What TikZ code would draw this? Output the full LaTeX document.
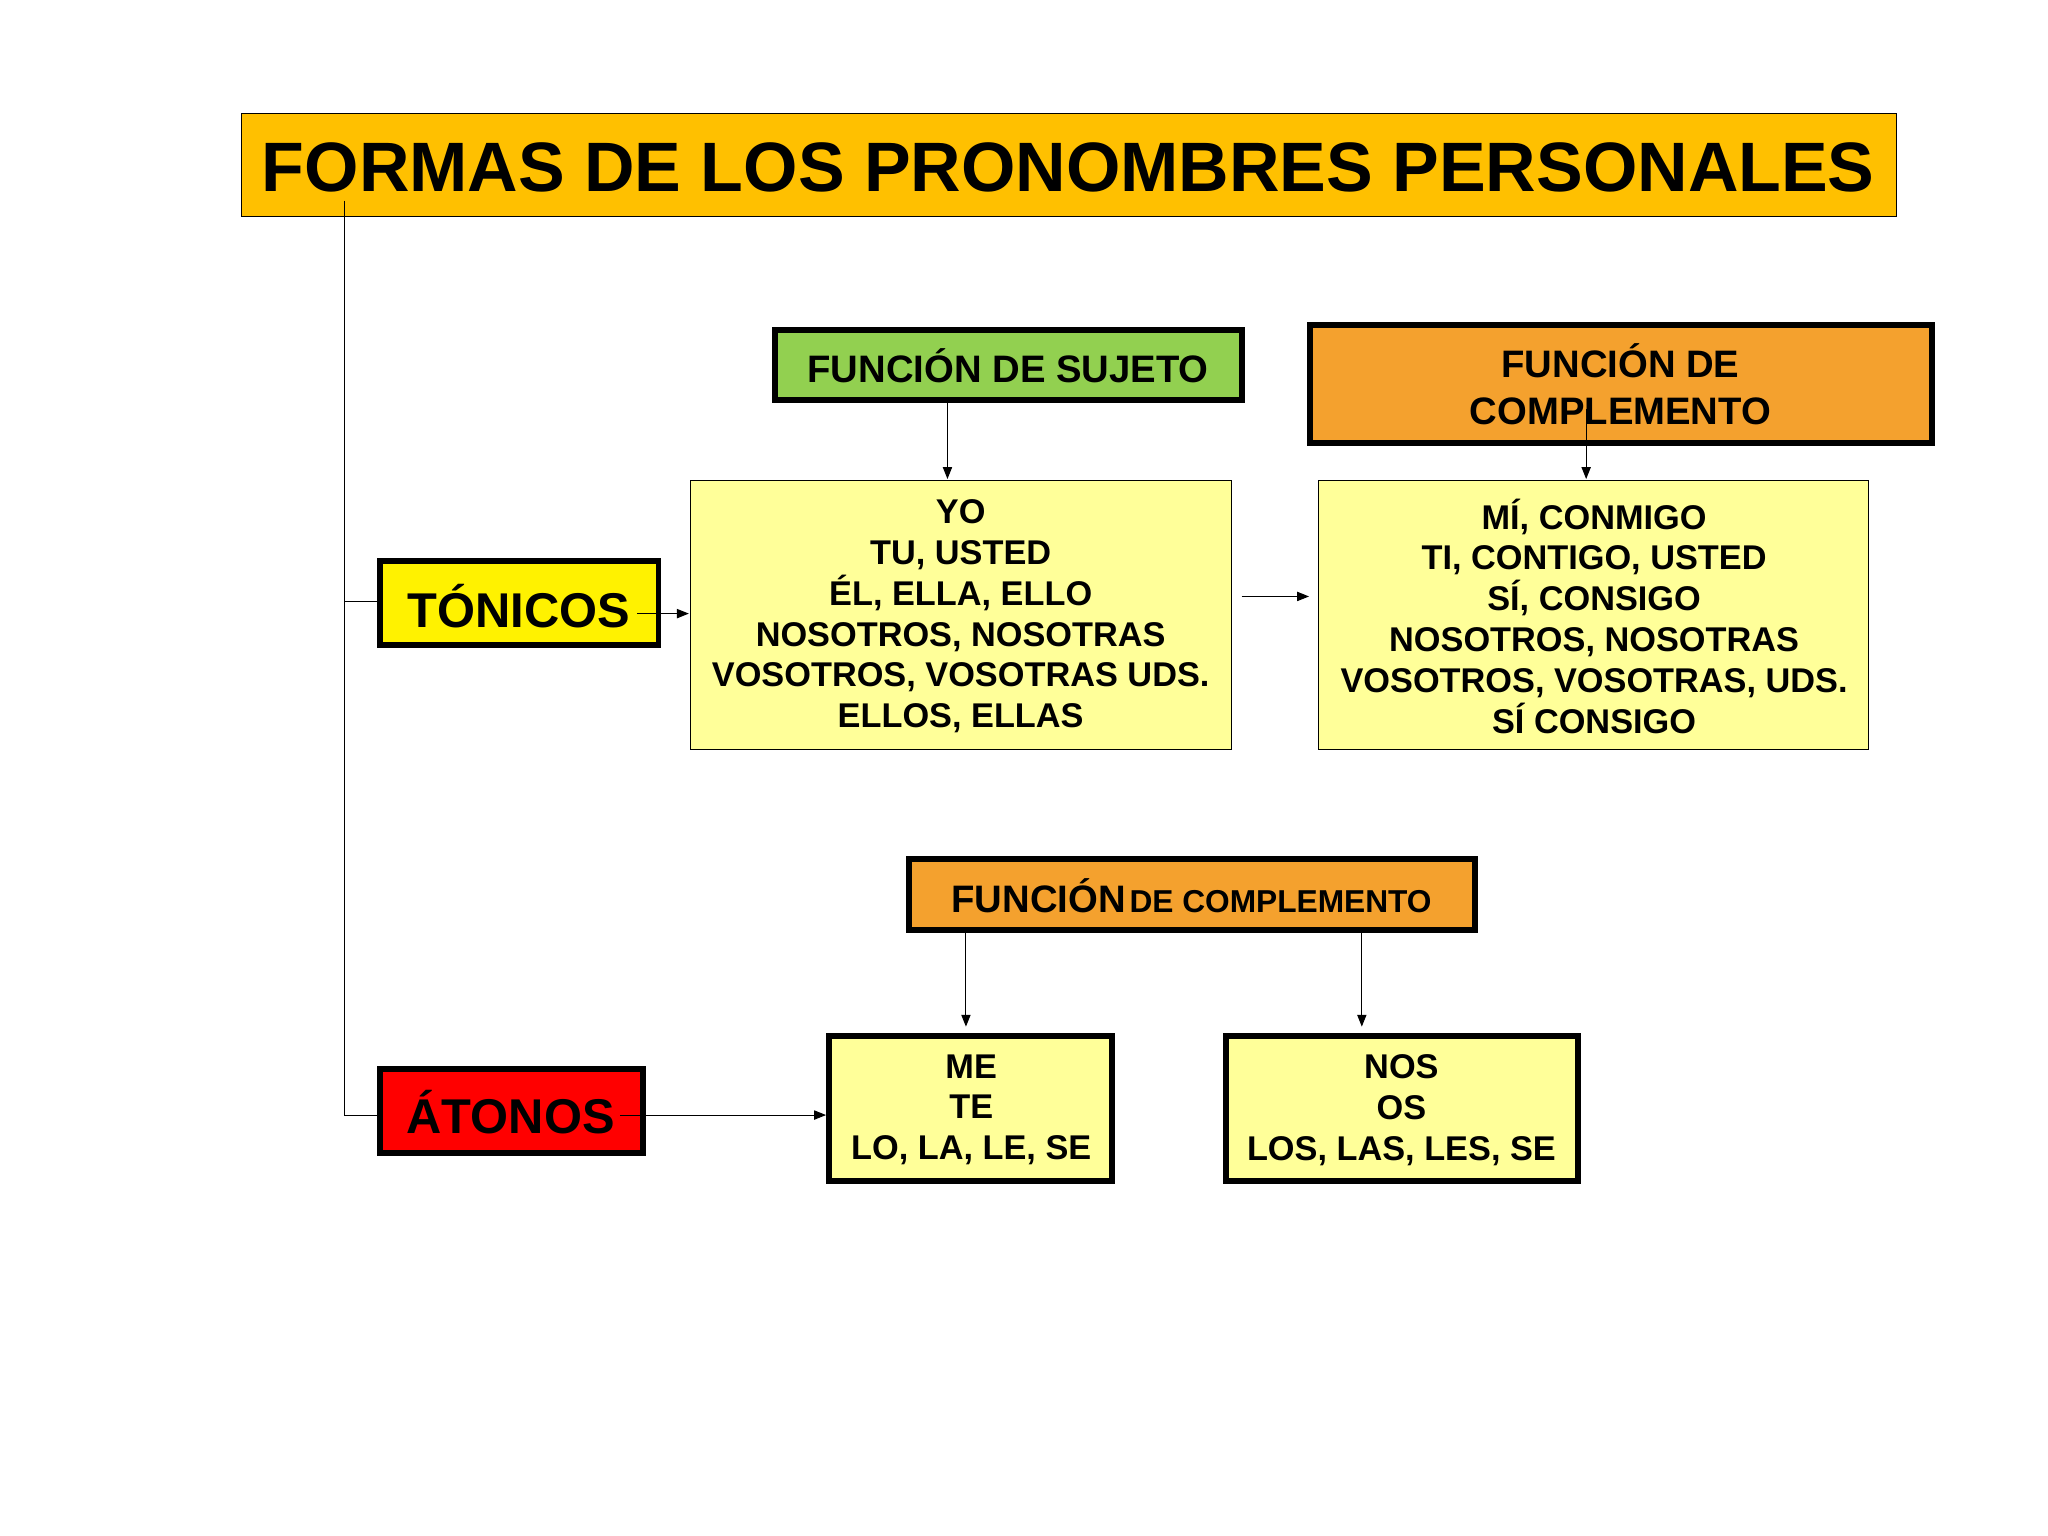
\documentclass[tikz,border=0pt]{standalone}
\usepackage{fontspec}
\setmainfont{Liberation Sans}
\usetikzlibrary{arrows.meta}
\definecolor{titleor}{HTML}{FFC000}
\definecolor{paley}{HTML}{FFFF99}
\definecolor{grn}{HTML}{92D050}
\definecolor{orng}{HTML}{F4A12E}
\begin{document}
\begin{tikzpicture}[x=1pt,y=-1pt,
  thin box/.style={draw=black,line width=0.8pt},
  thick box/.style={draw=black,line width=4.5pt},
  arr/.style={-{Triangle[length=9pt,width=7pt]},line width=0.8pt},
  txt/.style={font=\bfseries\fontsize{26}{31}\selectfont,align=center}]
\useasboundingbox[fill=white] (0,0) rectangle (1552,1164);
% title
\draw[thin box,fill=titleor] (183,86) rectangle (1437,164);
\node[anchor=west,font=\bfseries\fontsize{53}{58}\selectfont] (title) at (195,127) {FORMAS DE LOS PRONOMBRES PERSONALES};
% boxes
\draw[thick box,fill=yellow] (288,425) rectangle (499,489);
\node[font=\bfseries\fontsize{37}{40}\selectfont] (ton) at (393,459) {TÓNICOS};
\draw[thick box,fill=red] (288,810) rectangle (487,874);
\node[font=\bfseries\fontsize{37}{40}\selectfont] (ato) at (387,843) {ÁTONOS};
\draw[thin box,fill=paley] (523,364) rectangle (933,568);
\node[txt] (b1) at (728,467) {YO\\TU, USTED\\ÉL, ELLA, ELLO\\NOSOTROS, NOSOTRAS\\VOSOTROS, VOSOTRAS UDS.\\ELLOS, ELLAS};
\draw[thin box,fill=paley] (999,364) rectangle (1416,568);
\node[txt] (b2) at (1208,467) {MÍ, CONMIGO\\TI, CONTIGO, USTED\\SÍ, CONSIGO\\NOSOTROS, NOSOTRAS\\VOSOTROS, VOSOTRAS, UDS.\\SÍ CONSIGO};
\draw[thick box,fill=grn] (587,250) rectangle (941,303);
\node[font=\bfseries\fontsize{29}{32}\selectfont] (suj) at (764,277) {FUNCIÓN DE SUJETO};
\draw[thick box,fill=orng] (993,246) rectangle (1464,336);
\node[font=\bfseries\fontsize{29}{36}\selectfont,align=center] (comp1) at (1228,291) {FUNCIÓN DE\\COMPLEMENTO};
\draw[thick box,fill=orng] (689,651) rectangle (1118,705);
\node[font=\bfseries] (comp2) at (903,679) {{\fontsize{29}{32}\selectfont FUNCIÓN} {\fontsize{24}{32}\selectfont DE COMPLEMENTO}};
\draw[thick box,fill=paley] (628,785) rectangle (843,895);
\node[txt] (me) at (736,841) {ME\\TE\\LO, LA, LE, SE};
\draw[thick box,fill=paley] (929,785) rectangle (1196,895);
\node[txt] (nos) at (1062,841) {NOS\\OS\\LOS, LAS, LES, SE};
% coordinates
\coordinate (v0) at (261,152);
\coordinate (vt) at (261,456);
\coordinate (va) at (261,845);
\coordinate (tt) at (288,456);
\coordinate (at) at (288,845);
\draw[line width=0.8pt] (v0) -- (va) -- (at);
\draw[line width=0.8pt] (vt) -- (tt);
\coordinate (t1) at (483,465); \coordinate (t2) at (522,465);
\draw[arr] (t1) -- (t2);
\coordinate (s1) at (718,303); \coordinate (s2) at (718,363);
\draw[arr] (s1) -- (s2);
\coordinate (c1) at (1202,310); \coordinate (c2) at (1202,363);
\draw[arr] (c1) -- (c2);
\coordinate (m1) at (941,452); \coordinate (m2) at (992,452);
\draw[arr] (m1) -- (m2);
\coordinate (d1) at (732,707); \coordinate (d2) at (732,778);
\draw[arr] (d1) -- (d2);
\coordinate (e1) at (1032,707); \coordinate (e2) at (1032,778);
\draw[arr] (e1) -- (e2);
\coordinate (a1) at (470,845); \coordinate (a2) at (626,845);
\draw[arr] (a1) -- (a2);
\end{tikzpicture}
\end{document}
